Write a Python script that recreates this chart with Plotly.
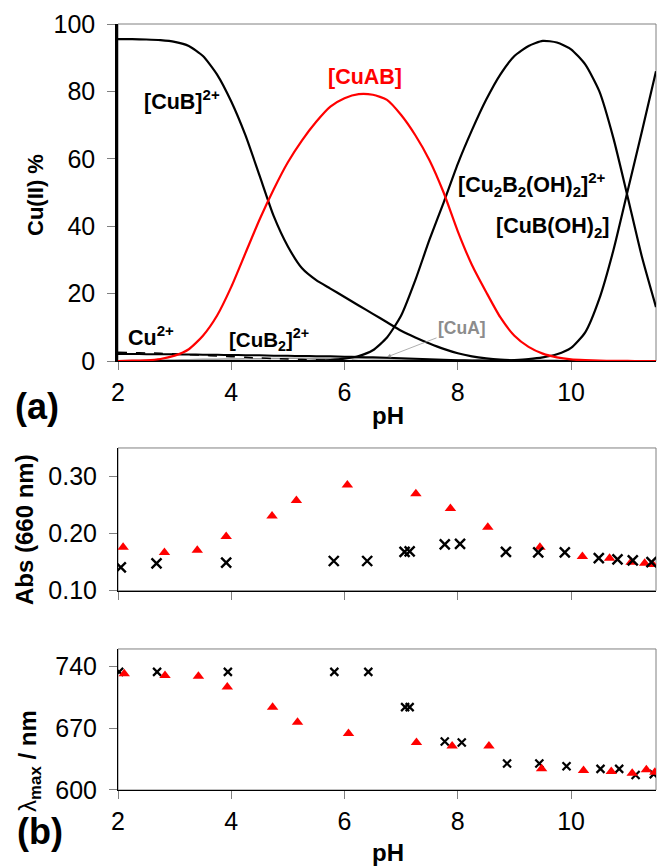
import plotly.graph_objects as go

# ---------------- data ----------------
ph = [2.0, 2.25, 2.5, 2.75, 3.0, 3.25, 3.5, 3.75, 4.0, 4.25, 4.5, 4.75, 5.0, 5.25,
      5.5, 5.75, 6.0, 6.25, 6.5, 6.75, 7.0, 7.25, 7.5, 7.75, 8.0, 8.25, 8.5, 8.75,
      9.0, 9.25, 9.5, 9.75, 10.0, 10.25, 10.5, 10.75, 11.0, 11.25, 11.5]

cub = [95.5, 95.5, 95.4, 95.2, 94.7, 93.5, 90.5, 85.0, 77.0, 67.0, 55.0, 43.0, 34.0, 27.5,
       24.0, 21.5, 19.0, 16.5, 14.0, 11.5, 9.0, 7.0, 5.2, 3.6, 2.3, 1.4, 0.8, 0.4,
       0.2, 0.1, 0.05, 0.02, 0.01, 0, 0, 0, 0, 0, 0]

cuab = [0.0, 0.1, 0.2, 0.6, 1.6, 3.5, 7.5, 13.5, 22.0, 32.0, 42.0, 51.0, 59.0, 65.5,
        71.0, 75.5, 78.0, 79.2, 79.0, 77.5, 73.0, 67.0, 59.6, 50.0, 38.5, 28.5, 20.5, 13.0,
        7.5, 4.2, 2.2, 1.1, 0.5, 0.25, 0.1, 0.05, 0.02, 0.01, 0.0]

cu2b2oh2 = [0, 0, 0, 0, 0, 0, 0, 0, 0, 0, 0, 0, 0, 0.02,
            0.1, 0.3, 0.7, 1.5, 3.2, 7.0, 13.5, 24.0, 36.0, 47.0, 58.5, 68.5, 77.5, 85.0,
            90.5, 93.5, 95.0, 94.5, 92.5, 88.0, 80.0, 66.0, 48.7, 31.0, 16.0]

cuboh2 = [0, 0, 0, 0, 0, 0, 0, 0, 0, 0, 0, 0, 0, 0,
          0, 0, 0, 0, 0, 0, 0, 0, 0, 0, 0, 0, 0.05, 0.1,
          0.3, 0.6, 1.1, 2.0, 3.9, 8.5, 18.5, 33.0, 50.5, 68.0, 86.0]

cu_free = [2.6, 2.5, 2.4, 2.3, 2.1, 1.9, 1.7, 1.5, 1.3, 1.1, 0.9, 0.75, 0.6, 0.45,
           0.35, 0.25, 0.18, 0.12, 0.08, 0.05, 0.03, 0.02, 0.01, 0, 0, 0, 0, 0,
           0, 0, 0, 0, 0, 0, 0, 0, 0, 0, 0]

cub2 = [2.1, 2.1, 2.05, 2.0, 2.0, 1.95, 1.9, 1.85, 1.8, 1.75, 1.7, 1.6, 1.55, 1.5,
        1.45, 1.4, 1.3, 1.2, 1.1, 0.95, 0.8, 0.65, 0.5, 0.35, 0.25, 0.15, 0.1, 0.06,
        0.04, 0.02, 0.01, 0, 0, 0, 0, 0, 0, 0, 0]

cua = [0.1, 0.15, 0.2, 0.25, 0.3, 0.4, 0.5, 0.55, 0.6, 0.65, 0.7, 0.75, 0.8, 0.8,
       0.8, 0.8, 0.8, 0.75, 0.7, 0.65, 0.6, 0.5, 0.4, 0.35, 0.3, 0.2, 0.15, 0.1,
       0.1, 0.05, 0.05, 0, 0, 0, 0, 0, 0, 0, 0]

abs_ph_tri = [2.09, 2.82, 3.40, 3.91, 4.72, 5.15, 6.05, 7.26, 7.87, 8.53, 9.45, 10.20, 10.68, 11.06, 11.30, 11.44]
abs_tri = [0.176, 0.167, 0.171, 0.195, 0.231, 0.258, 0.285, 0.270, 0.244, 0.211, 0.176, 0.160, 0.157, 0.150, 0.148, 0.146]

abs_ph_x = [2.05, 2.68, 3.91, 5.81, 6.40, 7.06, 7.15, 7.77, 8.04, 8.85, 9.42, 9.89, 10.49, 10.82, 11.09, 11.42]
abs_x = [0.141, 0.148, 0.149, 0.152, 0.152, 0.168, 0.169, 0.181, 0.182, 0.168, 0.167, 0.167, 0.157, 0.155, 0.153, 0.150]

lam_ph_tri = [2.11, 2.83, 3.42, 3.93, 4.73, 5.17, 6.07, 7.27, 7.90, 8.55, 9.48, 10.22, 10.71, 11.08, 11.33, 11.48]
lam_tri = [732, 730, 729, 717, 694, 677, 664, 654, 650, 650, 624, 622, 621, 619, 623, 620]

lam_ph_x = [2.02, 2.69, 3.94, 5.82, 6.42, 7.07, 7.15, 7.77, 8.07, 8.87, 9.44, 9.92, 10.52, 10.85, 11.14, 11.46]
lam_x = [734, 734, 734, 734, 734, 694, 694, 655, 654, 630, 630, 627, 624, 624, 617, 618]

x_ticks = [2, 4, 6, 8, 10]
top_ticks = [0, 20, 40, 60, 80, 100]
abs_ticks = [0.10, 0.20, 0.30]
lam_ticks = [600, 670, 740]

# ---------------- figure ----------------
FONT = "Arial, Liberation Sans, sans-serif"
fig = go.Figure()

def line(y, color, width=2.2, dash=None):
    fig.add_trace(go.Scatter(x=ph, y=y, mode="lines", xaxis="x", yaxis="y",
                             line=dict(color=color, width=width, dash=dash, shape="spline", smoothing=0.6),
                             showlegend=False, hoverinfo="skip"))

line(cua, "#9a9a9a", 1.5)
line(cub2, "black", 2.0)
line(cu_free, "black", 1.5, "dash")
line(cub, "black")
line(cu2b2oh2, "black")
line(cuboh2, "black")
line(cuab, "#ff0000")

fig.add_trace(go.Scatter(x=abs_ph_tri, y=abs_tri, mode="markers", xaxis="x2", yaxis="y2",
                         marker=dict(symbol="triangle-up", size=10, color="#ff0000"),
                         showlegend=False))
fig.add_trace(go.Scatter(x=abs_ph_x, y=abs_x, mode="markers", xaxis="x2", yaxis="y2",
                         marker=dict(symbol="x-thin", size=10, line=dict(color="black", width=2.4)),
                         showlegend=False))
fig.add_trace(go.Scatter(x=lam_ph_x, y=lam_x, mode="markers", xaxis="x3", yaxis="y3",
                         marker=dict(symbol="x-thin", size=8, line=dict(color="black", width=2.2)),
                         showlegend=False))
fig.add_trace(go.Scatter(x=lam_ph_tri, y=lam_tri, mode="markers", xaxis="x3", yaxis="y3",
                         marker=dict(symbol="triangle-up", size=10, color="#ff0000"),
                         showlegend=False))

TICKFONT = dict(family=FONT, size=25, color="black")

def xax(anchor, labels):
    return dict(domain=[0, 1], range=[2, 11.5], anchor=anchor, tickvals=x_ticks,
                ticks="outside", ticklen=8, tickcolor="#808080", tickwidth=1,
                showline=True, linecolor="black", linewidth=1, showgrid=False,
                zeroline=False, showticklabels=labels, tickfont=TICKFONT,
                ticklabelstandoff=1)

def yax(anchor, dom, rng, vals, lw=1, fmt=None):
    d = dict(domain=dom, range=rng, anchor=anchor, tickvals=vals,
             ticks="outside", ticklen=8, tickcolor="#808080", tickwidth=1,
             showline=True, linecolor="black", linewidth=lw, showgrid=False,
             zeroline=False, tickfont=TICKFONT, ticklabelstandoff=7)
    if fmt:
        d["tickformat"] = fmt
    return d

fig.update_layout(
    width=658, height=868,
    margin=dict(l=118, r=2, t=24, b=78),
    paper_bgcolor="white", plot_bgcolor="white",
    font=dict(family=FONT, color="black"),
    xaxis=xax("y", True),
    yaxis=yax("x", [0.560, 1.0], [0, 100], top_ticks, lw=2.5),
    xaxis2=xax("y2", False),
    yaxis2=yax("x2", [0.2602, 0.4465], [0.10, 0.35], abs_ticks, fmt=".2f"),
    xaxis3=xax("y3", True),
    yaxis3=yax("x3", [0.0, 0.1841], [600, 760], lam_ticks),
)

shapes = []
for xr, yr in (("x", "y"), ("x2", "y2"), ("x3", "y3")):
    shapes.append(dict(type="rect", xref=xr + " domain", yref=yr + " domain", x0=0, x1=1, y0=0, y1=1,
                       line=dict(color="#808080", width=1), layer="below"))
fig.update_layout(shapes=shapes)

ann = []
def lab(text, x, y, size=21.5, color="black", xref="x", yref="y", xanchor="left", angle=0):
    ann.append(dict(text=text, x=x, y=y, xref=xref, yref=yref, showarrow=False,
                    xanchor=xanchor, yanchor="middle", textangle=angle,
                    font=dict(family=FONT, size=size, color=color)))

lab("<b>[CuB]<sup>2+</sup></b>", 2.42, 77.5)
lab("<b>[CuAB]</b>", 5.68, 84.3, color="#ff0000")
lab("<b>[Cu<sub>2</sub>B<sub>2</sub>(OH)<sub>2</sub>]<sup>2+</sup></b>", 7.97, 52.5)
lab("<b>[CuB(OH)<sub>2</sub>]</b>", 8.64, 39.5)
lab("<b>Cu<sup>2+</sup></b>", 2.14, 7.4)
lab("<b>[CuB<sub>2</sub>]<sup>2+</sup></b>", 3.92, 6.5, size=20.5)

ann.append(dict(text="<b>[CuA]</b>", x=6.75, y=1.2, xref="x", yref="y", showarrow=True,
                ax=75, ay=-29, arrowhead=2, arrowsize=1, arrowwidth=0.8, arrowcolor="#9a9a9a",
                font=dict(family=FONT, size=17.5, color="#8c8c8c")))

lab("<b>(a)</b>", -0.1506, 0.5013, size=36, xref="paper", yref="paper", xanchor="center")
lab("<b>(b)</b>", -0.145, -0.0540, size=36, xref="paper", yref="paper", xanchor="center")
lab("<b>pH</b>", 0.502, 0.4883, size=24, xref="paper", yref="paper", xanchor="center")
lab("<b>pH</b>", 0.502, -0.0822, size=24, xref="paper", yref="paper", xanchor="center")
lab("<b>Cu(II) %</b>", -0.1524, 0.7768, size=22, xref="paper", yref="paper", xanchor="center", angle=-90)
lab("<b>Abs (660 nm)</b>", -0.1747, 0.3394, size=24, xref="paper", yref="paper", xanchor="center", angle=-90)
lab("λ<sub><b>max</b></sub><b> / nm</b>", -0.1636, 0.038, size=24, xref="paper", yref="paper", xanchor="center", angle=-90)

fig.update_layout(annotations=ann)
fig.write_html("out.html", config={"displayModeBar": False},
               post_script="document.body.style.margin='0';document.body.style.overflow='hidden';")
